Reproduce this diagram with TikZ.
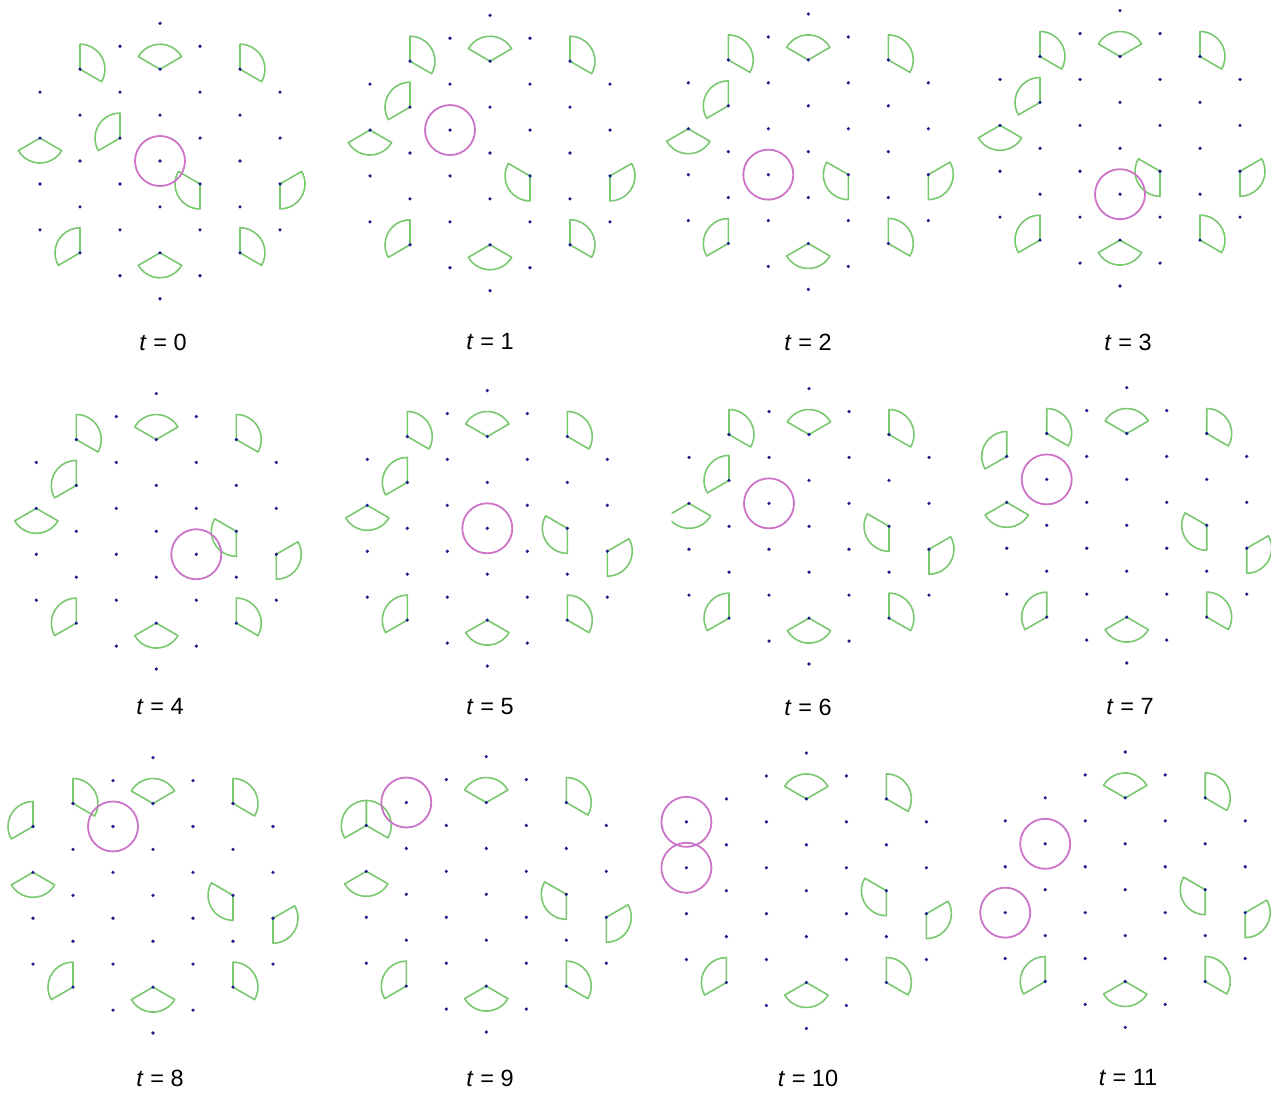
\documentclass[tikz,border=0pt]{standalone}
\usepackage{fontspec}
\setmainfont{Liberation Sans}
\definecolor{sectgreen}{RGB}{122,200,112}
\definecolor{ringpink}{RGB}{204,116,200}
\definecolor{latblue}{RGB}{28,28,140}
\tikzset{
  sectorshape/.style={draw=sectgreen, line width=1.6pt, line join=round},
  robotring/.style={draw=ringpink, line width=1.8pt},
  latdot/.style={fill=latblue},
  steplabel/.style={font=\fontsize{23.5}{28}\selectfont, inner sep=0pt}
}
% #1,#2: panel centre (pixels, y downwards); #3: sectors j/k/dir; #4: rings j/k
\newcommand\panelat[4]{%
  \begin{scope}[shift={(#1,-#2)}]
    \foreach \j/\k/\d in {#3}{%
      \draw[sectorshape] ({(\j)*40},{(\k)*(-22.95)}) -- ++(\d-60:25)
        arc[start angle=\d-60, end angle=\d+60, radius=25] -- cycle;
    }
    \foreach \j/\k in {#4}{%
      \draw[robotring] ({(\j)*40},{(\k)*(-22.95)}) circle[radius=25];
    }
    \foreach \j in {-3,...,3}{%
      \pgfmathtruncatemacro\km{6-abs(\j)}%
      \pgfmathtruncatemacro\kn{2-\km}%
      \pgfmathtruncatemacro\kl{-\km}%
      \foreach \k in {\kl,\kn,...,\km}{%
        \fill[latdot] ({(\j)*40},{(\k)*(-22.95)}) circle[radius=1.8];
      }
    }
  \end{scope}}
\begin{document}
\begin{tikzpicture}[x=1pt,y=1pt]
\fill[white] (0,0) rectangle (1271,-1092);
\useasboundingbox (0,0) rectangle (1271,-1092);

% row 1
\panelat{160}{161}{-2/-4/30,0/-4/90,2/-4/30,-1/-1/150,-3/-1/-90,1/1/210,3/1/-30,-2/4/150,0/4/-90,2/4/30}{0/0}
\panelat{490}{153}{-2/-4/30,0/-4/90,2/-4/30,-2/-2/150,-3/-1/-90,1/1/210,3/1/-30,-2/4/150,0/4/-90,2/4/30}{-1/-1}
\panelat{808.3}{151.7}{-2/-4/30,0/-4/90,2/-4/30,-2/-2/150,-3/-1/-90,1/1/210,3/1/-30,-2/4/150,0/4/-90,2/4/30}{-1/1}
\panelat{1120}{148.3}{-2/-4/30,0/-4/90,2/-4/30,-2/-2/150,-3/-1/-90,1/1/210,3/1/-30,-2/4/150,0/4/-90,2/4/30}{0/2}

% row 2
\panelat{156.3}{531.3}{-2/-4/30,0/-4/90,2/-4/30,-2/-2/150,-3/-1/-90,2/0/210,3/1/-30,-2/4/150,0/4/-90,2/4/30}{1/1}
\panelat{487.3}{528.3}{-2/-4/30,0/-4/90,2/-4/30,-2/-2/150,-3/-1/-90,2/0/210,3/1/-30,-2/4/150,0/4/-90,2/4/30}{0/0}
\begin{scope}
\clip (671.5,-375) rectangle (960,-700);
\panelat{809}{526.3}{-2/-4/30,0/-4/90,2/-4/30,-2/-2/150,-3/-1/-90,2/0/210,3/1/-30,-2/4/150,0/4/-90,2/4/30}{-1/-1}
\end{scope}
\panelat{1126.7}{525.3}{-2/-4/30,0/-4/90,2/-4/30,-3/-3/150,-3/-1/-90,2/0/210,3/1/-30,-2/4/150,0/4/-90,2/4/30}{-2/-2}

% row 3
\panelat{153}{895.3}{-2/-4/30,0/-4/90,2/-4/30,-3/-3/150,-3/-1/-90,2/0/210,3/1/-30,-2/4/150,0/4/-90,2/4/30}{-1/-3}
\panelat{486.3}{894.3}{-3/-3/30,0/-4/90,2/-4/30,-3/-3/150,-3/-1/-90,2/0/210,3/1/-30,-2/4/150,0/4/-90,2/4/30}{-2/-4}
\panelat{806.4}{890.7}{0/-4/90,2/-4/30,2/0/210,3/1/-30,-2/4/150,0/4/-90,2/4/30}{-3/-3,-3/-1}
\panelat{1125.2}{889.7}{0/-4/90,2/-4/30,2/0/210,3/1/-30,-2/4/150,0/4/-90,2/4/30}{-2/-2,-3/1}

% labels
\node[steplabel] (l0) at (163,-342) {\textit{t} = 0};
\node[steplabel] (l1) at (490,-342) {\textit{t} = 1};
\node[steplabel] (l2) at (808,-342) {\textit{t} = 2};
\node[steplabel] (l3) at (1128,-342) {\textit{t} = 3};
\node[steplabel] (l4) at (160,-707) {\textit{t} = 4};
\node[steplabel] (l5) at (490,-707) {\textit{t} = 5};
\node[steplabel] (l6) at (808,-707) {\textit{t} = 6};
\node[steplabel] (l7) at (1130,-707) {\textit{t} = 7};
\node[steplabel] (l8) at (160,-1078) {\textit{t} = 8};
\node[steplabel] (l9) at (490,-1078) {\textit{t} = 9};
\node[steplabel] (l10) at (808,-1078) {\textit{t} = 10};
\node[steplabel] (l11) at (1128,-1078) {\textit{t} = 11};
\end{tikzpicture}
\end{document}
